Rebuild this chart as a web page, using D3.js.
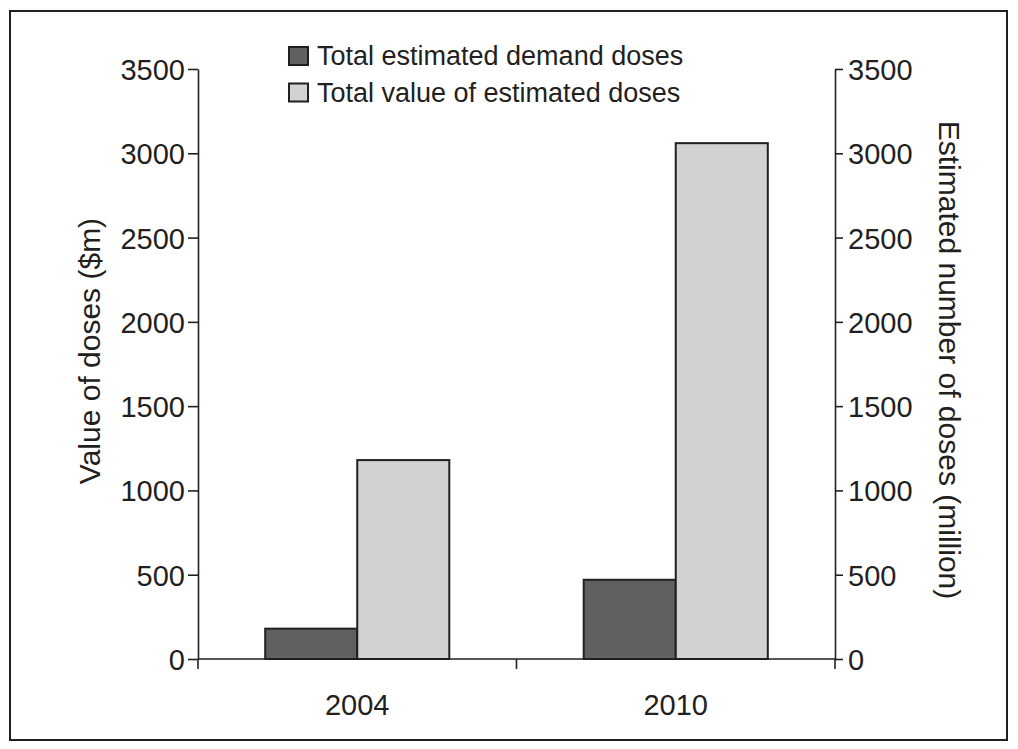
<!DOCTYPE html>
<html>
<head>
<meta charset="utf-8">
<script src="https://cdn.jsdelivr.net/npm/d3@7"></script>
<style>
  html, body { margin: 0; padding: 0; background: #fff; }
  text { font-family: "Liberation Sans", Arial, Helvetica, sans-serif; fill: #231f20; }
</style>
</head>
<body>
<svg id="chart" width="1018" height="749"></svg>
<script>
// Data
const years = ["2004", "2010"];
const seriesNames = ["Total estimated demand doses", "Total value of estimated doses"];
const demandDoses = [180, 470];
const valueDoses = [1180, 3060];
const yTicks = [0, 500, 1000, 1500, 2000, 2500, 3000, 3500];
const seriesColors = ["#5f6062", "#d1d2d4"];

const ink = "#231f20";
const svg = d3.select("#chart");

// Outer frame
svg.append("rect")
  .attr("x", 10).attr("y", 11)
  .attr("width", 997).attr("height", 729)
  .attr("fill", "none").attr("stroke", ink).attr("stroke-width", 2);

const plotLeft = 198, plotRight = 835, plotTop = 69, plotBottom = 659;

const x = d3.scaleBand().domain(years).range([plotLeft, plotRight]).paddingInner(0).paddingOuter(0);
const inner = d3.scaleBand().domain([0, 1]).range([0, x.bandwidth()]).paddingOuter(0.73).paddingInner(0);
const yL = d3.scaleLinear().domain([0, 3500]).range([plotBottom, plotTop]);
const yR = d3.scaleLinear().domain([0, 3500]).range([plotBottom, plotTop]);

const rows = years.map((yr, i) => ({ year: yr, values: [demandDoses[i], valueDoses[i]] }));

// Bars
const g = svg.append("g");
rows.forEach(r => {
  r.values.forEach((v, k) => {
    g.append("rect")
      .attr("x", x(r.year) + inner(k))
      .attr("y", yL(v))
      .attr("width", inner.bandwidth())
      .attr("height", yL(0) - yL(v))
      .attr("fill", seriesColors[k])
      .attr("stroke", ink)
      .attr("stroke-width", 2);
  });
});

function styleAxis(sel) {
  sel.selectAll("path, line").attr("stroke", ink).attr("stroke-width", 1.6);
  sel.selectAll("text").attr("font-size", 29).attr("fill", ink)
    .attr("font-family", '"Liberation Sans", Arial, sans-serif');
}

// Left axis
const axL = svg.append("g").attr("transform", `translate(${plotLeft},0)`)
  .call(d3.axisLeft(yL).tickValues(yTicks).tickFormat(d3.format("d")).tickSize(10).tickSizeOuter(0).tickPadding(3));
styleAxis(axL);
axL.selectAll("text").attr("dy", "0.36em");

// Right axis
const axR = svg.append("g").attr("transform", `translate(${plotRight},0)`)
  .call(d3.axisRight(yR).tickValues(yTicks).tickFormat(d3.format("d")).tickSize(8).tickSizeOuter(0).tickPadding(5));
styleAxis(axR);
axR.selectAll("text").attr("dy", "0.36em");

// X axis: baseline with ticks at band boundaries
const axX = svg.append("g").attr("transform", `translate(0,${plotBottom})`);
axX.append("line").attr("x1", plotLeft).attr("x2", plotRight).attr("y1", 0).attr("y2", 0)
  .attr("stroke", ink).attr("stroke-width", 1.6);
const bounds = [plotLeft].concat(years.map(d => x(d) + x.bandwidth()));
axX.selectAll("line.tick").data(bounds).enter().append("line")
  .attr("class", "tick")
  .attr("x1", d => d).attr("x2", d => d).attr("y1", 0).attr("y2", 10)
  .attr("stroke", ink).attr("stroke-width", 1.6);
axX.selectAll("text.lab").data(years).enter().append("text")
  .attr("class", "lab")
  .attr("x", d => x(d) + x.bandwidth() / 2)
  .attr("y", 56)
  .attr("text-anchor", "middle")
  .attr("font-size", 29)
  .text(d => d);

// Axis titles
svg.append("text")
  .attr("transform", "translate(100,351) rotate(-90)")
  .attr("text-anchor", "middle")
  .attr("font-size", 30)
  .text("Value of doses ($m)");
svg.append("text")
  .attr("transform", "translate(939,360) rotate(90)")
  .attr("text-anchor", "middle")
  .attr("font-size", 30)
  .text("Estimated number of doses (million)");

// Legend
const lg = svg.append("g").attr("transform", "translate(289,47)");
seriesNames.forEach((name, k) => {
  const row = lg.append("g").attr("transform", `translate(0,${k * 36.5})`);
  row.append("rect").attr("x", 0).attr("y", 0).attr("width", 19).attr("height", 18)
    .attr("fill", seriesColors[k]).attr("stroke", ink).attr("stroke-width", 2);
  row.append("text").attr("x", 28).attr("y", 18).attr("font-size", 27).text(name);
});
</script>
</body>
</html>
